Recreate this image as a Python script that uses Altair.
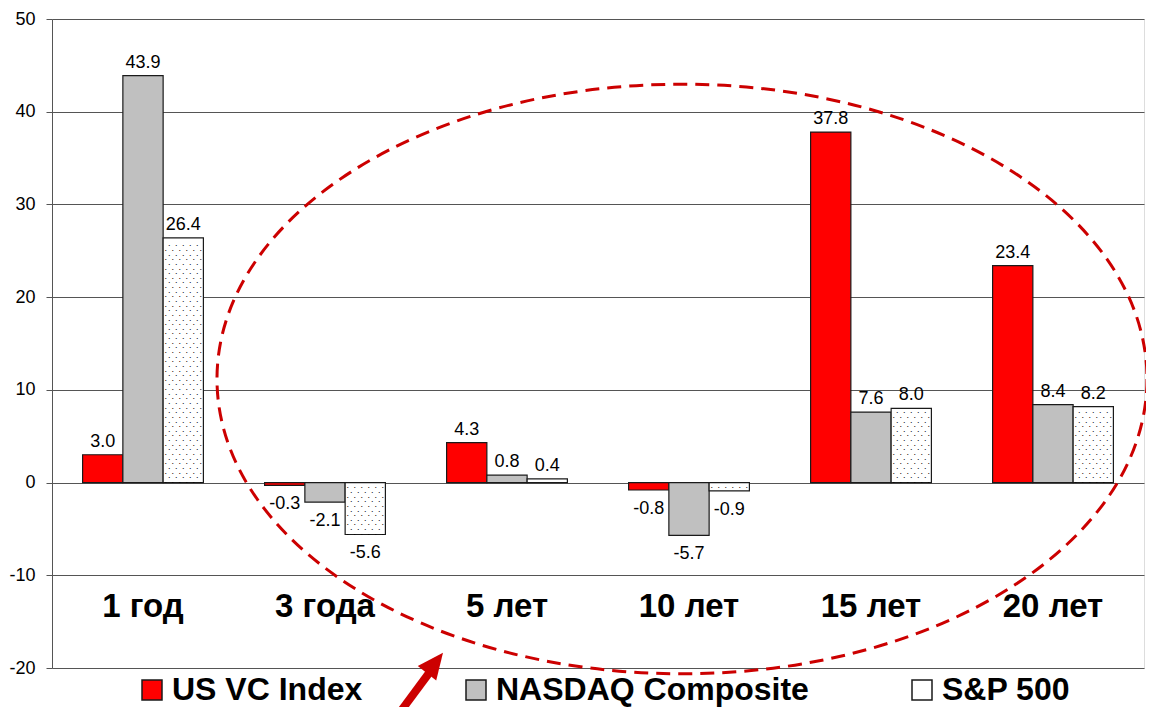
import altair as alt
import pandas as pd

FONT = "Liberation Sans"

periods = ["1 год", "3 года", "5 лет", "10 лет", "15 лет", "20 лет"]
series = ["US VC Index", "NASDAQ Composite", "S&P 500"]
us_vc = [3.0, -0.3, 4.3, -0.8, 37.8, 23.4]
nasdaq = [43.9, -2.1, 0.8, -5.7, 7.6, 8.4]
sp500 = [26.4, -5.6, 0.4, -0.9, 8.0, 8.2]
colors = ["#ff0000", "#c0c0c0", "#ffffff"]
y_ticks = [-20, -10, 0, 10, 20, 30, 40, 50]

rows = []
for s, vals in zip(series, [us_vc, nasdaq, sp500]):
    for p, v in zip(periods, vals):
        rows.append({"period": p, "series": s, "value": v})
df = pd.DataFrame(rows)
sp_df = df[df.series == "S&P 500"].reset_index(drop=True)
labels_df = pd.DataFrame({"period": periods})
one = pd.DataFrame({"a": [0]})

W, H = 1092, 649

x_enc = alt.X("period:N", sort=periods, axis=None,
              scale=alt.Scale(domain=periods, paddingInner=0, paddingOuter=0))
xo_enc = alt.XOffset("series:N", sort=series,
                     scale=alt.Scale(domain=series, paddingInner=0, paddingOuter=0.76))
y_scale = alt.Scale(domain=[-20, 50], nice=False, zero=False)

bars = alt.Chart(df).mark_bar(stroke="#1a1a1a", strokeWidth=1.2).encode(
    x=x_enc,
    xOffset=xo_enc,
    y=alt.Y("value:Q", scale=y_scale,
            axis=alt.Axis(values=y_ticks, title=None, grid=True, gridColor="#555555",
                          gridWidth=1, domainColor="#555555", tickColor="#555555",
                          tickSize=6, labelFontSize=18, labelColor="black",
                          labelFont=FONT, labelPadding=11,
                          labelExpr="datum.value < 0 ? '-' + abs(datum.value) : '' + datum.value")),
    fill=alt.Fill("series:N", sort=series,
                  scale=alt.Scale(domain=series, range=colors),
                  legend=alt.Legend(title=None, orient="none", legendX=84, legendY=655,
                                    direction="horizontal", symbolType="square",
                                    symbolSize=400, symbolStrokeColor="#1a1a1a",
                                    symbolStrokeWidth=1.5, labelFontSize=32,
                                    labelFontWeight="bold", labelFont=FONT,
                                    labelColor="black", labelOffset=4,
                                    columnPadding=97, labelLimit=600, padding=0,
                                    offset=0)),
)

dot_layers = []
for start, offsets in [(0.3, [-17.5, -10.5, -3.5, 3.5, 10.5, 17.5]),
                       (0.8, [-14, -7, 0, 7, 14])]:
    for dx in offsets:
        dot_layers.append(
            alt.Chart(sp_df)
            .transform_calculate(
                ys=f"datum.value >= 0 ? sequence({start}, datum.value - 0.15, 1) : sequence({-start}, datum.value + 0.15, -1)"
            )
            .transform_flatten(["ys"])
            .mark_text(text=".", fontSize=9, font=FONT, color="#000000",
                       baseline="middle", align="center", dx=dx)
            .encode(x=x_enc, xOffset=xo_enc,
                    y=alt.Y("ys:Q", scale=y_scale, title=None))
        )

label_expr = "(datum.value < 0 ? '-' : '') + format(abs(datum.value), '.1f')"

pos_labels = alt.Chart(df).transform_filter("datum.value >= 0").transform_calculate(
    lab=label_expr
).mark_text(
    baseline="alphabetic", dy=-8, fontSize=18, font=FONT, color="black"
).encode(
    x=x_enc, xOffset=xo_enc,
    y=alt.Y("value:Q", scale=y_scale, title=None),
    text="lab:N",
)

neg_labels = alt.Chart(df).transform_filter("datum.value < 0").transform_calculate(
    lab=label_expr
).mark_text(
    baseline="top", dy=10, fontSize=18, font=FONT, color="black"
).encode(
    x=x_enc, xOffset=xo_enc,
    y=alt.Y("value:Q", scale=y_scale, title=None),
    text="lab:N",
)

cat_labels = alt.Chart(labels_df).mark_text(
    baseline="alphabetic", fontSize=33, fontWeight="bold", font=FONT, color="black"
).encode(x=x_enc, y=alt.value(598), text="period:N")

ell_path = ("M 1 0 C 1 0.3502 0.5523 0.634 0 0.634 "
            "C -0.5523 0.634 -1 0.3502 -1 0 "
            "C -1 -0.3502 -0.5523 -0.634 0 -0.634 "
            "C 0.5523 -0.634 1 -0.3502 1 0 Z")
ellipse = alt.Chart(one).mark_point(
    shape=ell_path, size=930 ** 2, filled=False, stroke="#cc0000", strokeWidth=3,
    strokeDash=[14, 8], opacity=1, fillOpacity=0
).encode(x=alt.value(630), y=alt.value(360))

shaft = alt.Chart(one).mark_rule(color="#cc0000", strokeWidth=8, strokeCap="butt").encode(
    x=alt.value(343), y=alt.value(700), x2=alt.value(383), y2=alt.value(646)
)
head = alt.Chart(one).mark_point(
    shape="M 0 -1 L 0.9 1 L -0.9 1 Z", size=676, angle=38, filled=True,
    color="#cc0000", opacity=1
).encode(x=alt.value(383), y=alt.value(644))

chart = alt.layer(
    bars, *dot_layers, pos_labels, neg_labels, cat_labels, ellipse, shaft, head
).properties(
    width=W, height=H,
    padding={"left": 44, "top": 11, "right": 2, "bottom": 39},
    autosize="none",
).configure_view(stroke="#555555", strokeWidth=1).configure(font=FONT)

chart.save("out.html", embed_options={"renderer": "svg", "actions": False})
